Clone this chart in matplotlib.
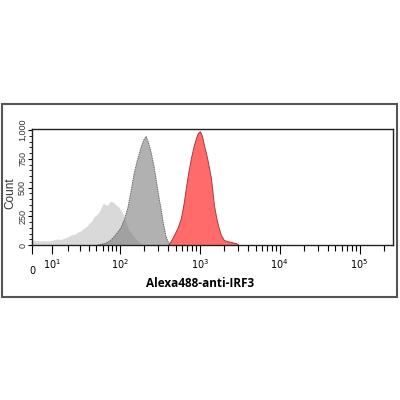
import numpy as np
import matplotlib
matplotlib.use("Agg")
import matplotlib.pyplot as plt
from matplotlib.patches import Rectangle
from matplotlib.transforms import ScaledTranslation

# ====== data (intensity, count) ======
ctrl_x = [0, 2.8, 5, 7.6, 10, 12, 15, 17, 20, 22, 25, 28, 31, 34, 37, 40, 43, 46,
          50, 54, 58, 61, 65, 70, 75, 82, 89, 97, 103, 109, 119, 130, 140, 150,
          162, 174, 185, 195]
ctrl_y = [45, 35, 38, 35, 40, 52, 48, 60, 72, 87, 95, 113, 125, 148, 160, 190, 205,
          245, 262, 287, 330, 365, 352, 348, 380, 374, 348, 330, 300, 278, 200, 130,
          100, 70, 45, 26, 10, 0]

iso_x = [52, 66, 77, 89, 103, 115, 126, 138, 150, 165, 184, 200, 213, 228, 246, 268,
         284, 309, 328, 347, 378, 401, 437]
iso_y = [0, 15, 43, 90, 148, 230, 322, 465, 610, 730, 845, 915, 945, 895, 810, 690,
         580, 420, 320, 210, 80, 30, 0]

irf3_x = [401, 440, 477, 530, 583, 630, 673, 720, 778, 840, 898, 950, 1008, 1070,
          1131, 1200, 1269, 1384, 1508, 1600, 1692, 1843, 2010, 2200, 2458, 2837, 3096]
irf3_y = [0, 40, 87, 150, 235, 360, 500, 630, 757, 860, 930, 975, 990, 950, 870, 800,
          722, 583, 348, 250, 174, 87, 43, 35, 26, 17, 0]

xmajor = [0, 10, 100, 1000, 10000, 100000]
xmajor_labels = ["0", "$10^{1}$", "$10^{2}$", "$10^{3}$", "$10^{4}$", "$10^{5}$"]
yticks = [0, 250, 500, 750, 1000]
ytick_labels = ["0", "250", "500", "750", "1,000"]

W = 16.0  # linear width of the biexponential-ish axis


def fwd(x):
    return np.arcsinh(np.asarray(x, dtype=float) / W)


def inv(y):
    return W * np.sinh(np.asarray(y, dtype=float))


fig = plt.figure(figsize=(4, 4), dpi=100)
ax = fig.add_axes([0.08, 0.3875, 0.9025, 0.29])
ax.set_xscale("function", functions=(fwd, inv))
ax.set_xlim(0, 262144)
ax.set_ylim(0, 1010)

ax.fill_between(ctrl_x, ctrl_y, 0, color="#d9d9d9", lw=0)
ax.fill_between(iso_x, iso_y, 0, facecolor="#797979", alpha=0.58, edgecolor="none")
ax.plot(iso_x, iso_y, color="#6a6a6a", lw=0.7, ls=(0, (1.5, 0.8)))
ax.fill_between(irf3_x, irf3_y, 0, facecolor="#ff6b6b", edgecolor="#a83a3a", lw=0.7)

# ticks
ax.set_xticks(xmajor)
ax.set_xticklabels(xmajor_labels, fontsize=7, family="Liberation Sans Narrow")
minors = [m * 10 ** k for k in range(1, 6) for m in range(2, 10) if m * 10 ** k <= 262144]
ax.set_xticks(minors, minor=True)
ax.tick_params(axis="x", which="major", length=6.5, width=0.8, direction="out", pad=2.5)
ax.tick_params(axis="x", which="minor", length=4, width=0.8, direction="out")
zero_lbl = ax.get_xticklabels()[0]
zero_lbl.set_transform(zero_lbl.get_transform() + ScaledTranslation(0, -6 / 72, fig.dpi_scale_trans))

ax.set_yticks(yticks)
ax.set_yticklabels(ytick_labels, rotation=90, va="center", fontsize=6.5, color="#333333",
                   family="Liberation Sans")
ax.set_yticks(np.arange(0, 1001, 50), minor=True)
ax.tick_params(axis="y", which="major", length=3, width=0.8, pad=0.5)
ax.tick_params(axis="y", which="minor", length=2, width=0.6)

for s in ax.spines.values():
    s.set_linewidth(1.0)
    s.set_color("#222222")

ax.set_ylabel("Count", fontsize=8.5, color="#333333", family="Liberation Sans", va="center")
ax.yaxis.set_label_coords(-0.06, 0.45)
fig.text(0.5, 0.292, "Alexa488-anti-IRF3", ha="center", va="center", fontsize=8.5,
         fontweight="bold", family="Open Sans")

# outer frame
fig.patches.append(Rectangle((0.005, 0.2575), 0.988, 0.4825, transform=fig.transFigure,
                             fill=False, edgecolor="#555555", lw=1.5))

fig.savefig("out.png", dpi=100)
